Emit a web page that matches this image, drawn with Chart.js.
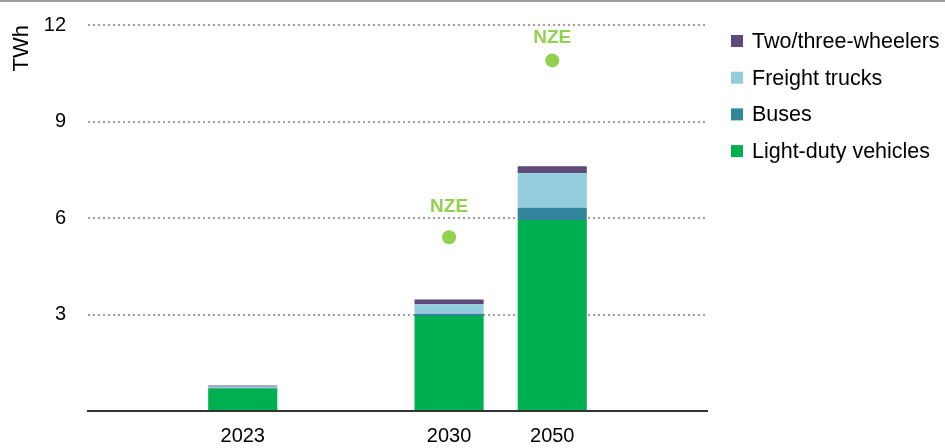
<!DOCTYPE html>
<html>
<head>
<meta charset="utf-8">
<script src="https://cdn.jsdelivr.net/npm/chart.js@4.4.1/dist/chart.umd.min.js"></script>
<style>
  html, body { margin: 0; padding: 0; background: #fff; }
  #wrap { width: 945px; height: 448px; position: relative; }
</style>
</head>
<body>
<div id="wrap"><canvas id="chart" width="945" height="448"></canvas></div>
<script>
const categories = ["", "2023", "", "2030", "2050", ""];
const lightDuty = [null, 0.70, null, 2.95, 5.94, null];
const buses = [null, 0.02, null, 0.07, 0.38, null];
const freightTrucks = [null, 0.04, null, 0.30, 1.07, null];
const twoThreeWheelers = [null, 0.03, null, 0.15, 0.22, null];
const nze = [null, null, null, 5.4, 10.9, null];
const yTicks = [0, 3, 6, 9, 12];

const FONT = "'Liberation Sans', Arial, sans-serif";
const nzeColor = "#92d050";

// pixel gap between each NZE dot and its label
const nzeLabelGap = { 3: 31, 4: 23 };

const topRule = {
  id: "topRule",
  beforeDraw(chart) {
    const ctx = chart.ctx;
    ctx.save();
    ctx.fillStyle = "#a0a0a0";
    ctx.fillRect(0, 0, chart.width, 2);
    ctx.restore();
  }
};

const nzeLabels = {
  id: "nzeLabels",
  afterDatasetsDraw(chart) {
    const idx = chart.data.datasets.findIndex(d => d.label === "NZE");
    const meta = chart.getDatasetMeta(idx);
    const ctx = chart.ctx;
    ctx.save();
    ctx.fillStyle = nzeColor;
    ctx.font = "bold 19px " + FONT;
    ctx.textAlign = "center";
    ctx.textBaseline = "middle";
    meta.data.forEach((pt, i) => {
      if (nze[i] === null) return;
      ctx.fillText("NZE", pt.x, pt.y - (nzeLabelGap[i] || 28));
    });
    ctx.restore();
  }
};

// legend on the right, stacked top-down in reverse dataset order
const sideLegend = {
  id: "sideLegend",
  afterDraw(chart) {
    const ctx = chart.ctx;
    const items = chart.data.datasets.filter(d => d.type === "bar").slice().reverse();
    const x = chart.chartArea.right + 24;
    let y = 41;
    ctx.save();
    ctx.font = "21.5px " + FONT;
    ctx.textBaseline = "middle";
    items.forEach(d => {
      ctx.fillStyle = d.backgroundColor;
      ctx.fillRect(x, y - 6, 12, 12);
      ctx.fillStyle = "#000";
      ctx.fillText(d.label, x + 21, y + 1);
      y += 36.7;
    });
    ctx.restore();
  }
};

new Chart(document.getElementById("chart"), {
  data: {
    labels: categories,
    datasets: [
      { type: "bar", label: "Light-duty vehicles", data: lightDuty, backgroundColor: "#00b050", stack: "s" },
      { type: "bar", label: "Buses", data: buses, backgroundColor: "#31859c", stack: "s" },
      { type: "bar", label: "Freight trucks", data: freightTrucks, backgroundColor: "#93cddd", stack: "s" },
      { type: "bar", label: "Two/three-wheelers", data: twoThreeWheelers, backgroundColor: "#5f497a", stack: "s" },
      {
        type: "line", label: "NZE", data: nze, showLine: false,
        pointRadius: 7, pointHoverRadius: 7, pointBackgroundColor: nzeColor,
        pointBorderWidth: 0, borderColor: nzeColor
      }
    ]
  },
  options: {
    responsive: false,
    animation: false,
    layout: { padding: { top: 25, right: 238, bottom: 0, left: 0 } },
    datasets: { bar: { barPercentage: 0.67, categoryPercentage: 1 } },
    plugins: {
      tooltip: { enabled: false },
      legend: { display: false }
    },
    scales: {
      x: {
        stacked: true,
        afterFit(scale) { scale.height = 37; },
        grid: { display: false, drawTicks: false },
        border: { color: "#333", width: 2 },
        ticks: { color: "#000", padding: 13, font: { family: FONT, size: 20 }, maxRotation: 0, autoSkip: false }
      },
      y: {
        stacked: true,
        min: 0,
        max: 12,
        afterBuildTicks(scale) { scale.ticks = yTicks.map(v => ({ value: v })); },
        afterFit(scale) {
          scale.width = 88;
          scale.paddingTop = 0;
          scale.paddingBottom = 0;
        },
        grid: {
          drawTicks: false,
          color: ctx => ctx.tick && ctx.tick.value === 0 ? "rgba(0,0,0,0)" : "#a0a0a0",
          lineWidth: 2
        },
        border: { display: false, dash: [2, 3] },
        ticks: {
          color: "#000",
          padding: 22,
          font: { family: FONT, size: 20 },
          callback: v => (v === 0 ? "" : v)
        },
        title: {
          display: true,
          text: "TWh",
          align: "end",
          color: "#000",
          padding: { top: 9, bottom: 0 },
          font: { family: FONT, size: 22 }
        }
      }
    }
  },
  plugins: [topRule, nzeLabels, sideLegend]
});
</script>
</body>
</html>
